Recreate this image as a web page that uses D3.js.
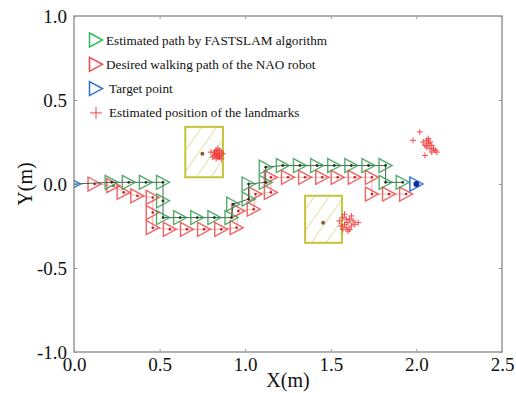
<!DOCTYPE html>
<html>
<head>
<meta charset="utf-8">
<script src="https://cdn.jsdelivr.net/npm/d3@7"></script>
<style>
  body { margin: 0; background: #fff; }
</style>
</head>
<body>
<div id="chart"></div>
<script>
// ticks
var xTicks = [0, 0.5, 1.0, 1.5, 2.0, 2.5]
var yTicks = [-1.0, -0.5, 0, 0.5, 1.0]

// desired walking path of the NAO robot (red)
var desiredPath = [
  [0.12, 0], [0.23, -0.01], [0.29, -0.05], [0.37, -0.07], [0.46, -0.08],
  [0.46, -0.17], [0.46, -0.26], [0.56, -0.27], [0.66, -0.27], [0.76, -0.27],
  [0.86, -0.27], [0.95, -0.26], [0.96, -0.16], [1.05, -0.15], [1.06, -0.06],
  [1.15, -0.05], [1.15, 0.04], [1.25, 0.04], [1.35, 0.04], [1.45, 0.04],
  [1.54, 0.04], [1.64, 0.04], [1.74, 0.04], [1.74, -0.06], [1.84, -0.06],
  [1.94, -0.06]
]

// estimated path by FASTSLAM (green)
var estimatedPath = [
  [0.22, 0.01], [0.32, 0.01], [0.42, 0.01], [0.52, 0.01], [0.52, -0.1],
  [0.52, -0.2], [0.62, -0.2], [0.72, -0.2], [0.82, -0.2], [0.92, -0.2],
  [0.93, -0.12], [1.02, -0.09], [1.02, 0.0], [1.12, 0.01], [1.12, 0.1],
  [1.22, 0.11], [1.32, 0.11], [1.42, 0.11], [1.52, 0.11], [1.62, 0.11],
  [1.72, 0.11], [1.82, 0.11], [1.82, 0.01], [1.92, 0.01]
]

var startPoint = [0, 0]
var targetPoint = [2.0, 0]

// obstacles: [x0, x1, y0, y1] and true landmark position
var obstacles = [
  [0.65, 0.87, 0.04, 0.34],
  [1.35, 1.565, -0.35, -0.07]
]
var landmarks = [[0.75, 0.18], [1.455, -0.23]]

// estimated landmark positions
var landmarkEstimates = [
  [0.80, 0.19], [0.82, 0.17], [0.83, 0.20], [0.84, 0.18], [0.85, 0.16], [0.83, 0.15],
  [0.86, 0.19], [0.84, 0.21], [0.82, 0.19], [0.85, 0.17], [0.87, 0.18], [0.81, 0.16],
  [0.84, 0.16], [0.86, 0.15], [0.83, 0.18], [0.85, 0.20],
  [1.55, -0.22], [1.57, -0.20], [1.58, -0.24], [1.60, -0.23], [1.61, -0.21], [1.59, -0.26],
  [1.62, -0.25], [1.63, -0.22], [1.60, -0.28], [1.56, -0.25], [1.64, -0.24], [1.58, -0.18],
  [1.61, -0.27], [1.59, -0.21], [1.62, -0.19], [1.66, -0.23], [1.57, -0.27],
  [2.02, 0.31], [1.98, 0.26], [2.05, 0.17], [2.04, 0.25], [2.06, 0.26], [2.07, 0.24],
  [2.08, 0.25], [2.06, 0.22], [2.09, 0.23], [2.10, 0.21], [2.08, 0.21], [2.11, 0.20],
  [2.12, 0.19], [2.07, 0.27], [2.05, 0.23], [2.09, 0.19]
]

var legendLabels = [
  'Estimated path by FASTSLAM algorithm',
  'Desired walking path of the NAO robot',
  'Target point',
  'Estimated position of the landmarks'
]

var green = '#3a9e55'
var red = '#f04848'
var blue = '#2f6fd6'
var serif = '"Liberation Serif", "Times New Roman", serif'

var margin = { top: 16, right: 14, bottom: 41, left: 74 }
var width = 516 - margin.left - margin.right
var height = 393 - margin.top - margin.bottom

var svg = d3
  .select('#chart')
  .append('svg')
  .attr('width', 516)
  .attr('height', 393)

var defs = svg.append('defs')
defs
  .append('clipPath')
  .attr('id', 'clip')
  .append('rect')
  .attr('width', width)
  .attr('height', height)

var hatch = defs
  .append('pattern')
  .attr('id', 'hatch')
  .attr('patternUnits', 'userSpaceOnUse')
  .attr('width', 12)
  .attr('height', 12)
  .attr('patternTransform', 'rotate(35)')
hatch
  .append('line')
  .attr('x1', 0)
  .attr('y1', 0)
  .attr('x2', 0)
  .attr('y2', 12)
  .attr('stroke', '#c9cf6a')
  .attr('stroke-width', 1.2)

var g = svg.append('g').attr('transform', 'translate(' + margin.left + ',' + margin.top + ')')

var x = d3.scaleLinear().domain([0, 2.5]).range([0, width])
var y = d3.scaleLinear().domain([-1, 1]).range([height, 0])

// plain hyphen for negatives, like the original figure
var fmt = d => d3.format('.1f')(d).replace('\u2212', '-')
var axisColor = '#999'

// frame + inner ticks
g.append('rect')
  .attr('width', width)
  .attr('height', height)
  .attr('fill', 'none')
  .attr('stroke', axisColor)
  .attr('stroke-width', 1.5)

var xAxisB = g.append('g').attr('transform', 'translate(0,' + height + ')')
  .call(d3.axisBottom(x).tickValues(xTicks).tickSize(-3).tickPadding(5).tickFormat(fmt))
var xAxisT = g.append('g')
  .call(d3.axisTop(x).tickValues(xTicks).tickSize(-3).tickFormat(''))
var yAxisL = g.append('g')
  .call(d3.axisLeft(y).tickValues(yTicks).tickSize(-3).tickPadding(7).tickFormat(fmt))
var yAxisR = g.append('g').attr('transform', 'translate(' + width + ',0)')
  .call(d3.axisRight(y).tickValues(yTicks).tickSize(-3).tickFormat(''))

;[xAxisB, xAxisT, yAxisL, yAxisR].forEach(function(a) {
  a.select('.domain').remove()
  a.selectAll('line').attr('stroke', axisColor)
  a.selectAll('text')
    .attr('fill', '#111')
    .style('font-size', '19px')
})
xAxisB.selectAll('text').attr('dy', '0.72em')

svg.append('text')
  .attr('x', margin.left + width / 2)
  .attr('y', 387)
  .attr('text-anchor', 'middle')
  .attr('font-size', 20)
  .attr('fill', '#111')
  .text('X(m)')

svg.append('text')
  .attr('transform', 'translate(32,' + (margin.top + height / 2) + ') rotate(-90)')
  .attr('text-anchor', 'middle')
  .attr('font-size', 20)
  .attr('fill', '#111')
  .text('Y(m)')

var plot = g.append('g').attr('clip-path', 'url(#clip)')

// obstacles
plot.selectAll('.obstacle')
  .data(obstacles)
  .enter()
  .append('rect')
  .attr('class', 'obstacle')
  .attr('x', d => x(d[0]))
  .attr('y', d => y(d[3]))
  .attr('width', d => x(d[1]) - x(d[0]))
  .attr('height', d => y(d[2]) - y(d[3]))
  .attr('fill', 'url(#hatch)')
  .attr('stroke', '#c4c43a')
  .attr('stroke-width', 2)

plot.selectAll('.landmark')
  .data(landmarks)
  .enter()
  .append('circle')
  .attr('cx', d => x(d[0]))
  .attr('cy', d => y(d[1]))
  .attr('r', 2)
  .attr('fill', '#8a5a30')

var tri = 'M-6.5,-7L6.5,0L-6.5,7Z'
var line = d3.line().x(d => x(d[0])).y(d => y(d[1]))

// desired path
plot.append('path')
  .datum(desiredPath)
  .attr('d', line)
  .attr('fill', 'none')
  .attr('stroke', red)
  .attr('stroke-width', 0.8)
  .attr('opacity', 0.5)

plot.selectAll('.desired')
  .data(desiredPath)
  .enter()
  .append('path')
  .attr('class', 'desired')
  .attr('d', tri)
  .attr('transform', d => 'translate(' + x(d[0]) + ',' + y(d[1]) + ')')
  .attr('fill', 'none')
  .attr('stroke', red)
  .attr('stroke-width', 1.4)
  .attr('opacity', 0.85)

plot.selectAll('.desired-dot')
  .data(desiredPath)
  .enter()
  .append('circle')
  .attr('cx', d => x(d[0]))
  .attr('cy', d => y(d[1]))
  .attr('r', 1.3)
  .attr('fill', '#c02020')

// estimated path
plot.append('path')
  .datum([startPoint].concat(estimatedPath))
  .attr('d', line)
  .attr('fill', 'none')
  .attr('stroke', '#1d3a24')
  .attr('stroke-width', 1)
  .attr('opacity', 0.8)

plot.selectAll('.estimated')
  .data(estimatedPath)
  .enter()
  .append('path')
  .attr('class', 'estimated')
  .attr('d', tri)
  .attr('transform', d => 'translate(' + x(d[0]) + ',' + y(d[1]) + ')')
  .attr('fill', 'none')
  .attr('stroke', green)
  .attr('stroke-width', 1.4)
  .attr('opacity', 0.85)

plot.selectAll('.estimated-dot')
  .data(estimatedPath)
  .enter()
  .append('circle')
  .attr('cx', d => x(d[0]))
  .attr('cy', d => y(d[1]))
  .attr('r', 1.4)
  .attr('fill', '#1d3a24')

// start and target
plot.selectAll('.target')
  .data([startPoint, targetPoint])
  .enter()
  .append('path')
  .attr('d', tri)
  .attr('transform', d => 'translate(' + x(d[0]) + ',' + y(d[1]) + ')')
  .attr('fill', 'none')
  .attr('stroke', blue)
  .attr('stroke-width', 1.4)

plot.append('circle')
  .attr('cx', x(targetPoint[0]))
  .attr('cy', y(targetPoint[1]))
  .attr('r', 3)
  .attr('fill', '#1030a0')

// landmark estimates
var plus = 'M-3,0H3M0,-3V3'
plot.selectAll('.lm-est')
  .data(landmarkEstimates)
  .enter()
  .append('path')
  .attr('d', plus)
  .attr('transform', d => 'translate(' + x(d[0]) + ',' + y(d[1]) + ')')
  .attr('stroke', '#f02020')
  .attr('stroke-width', 1)
  .attr('opacity', 0.8)

// legend
var legendColors = ['#2ebd5a', red, blue, red]
var legend = g.selectAll('.legend')
  .data(legendLabels)
  .enter()
  .append('g')
  .attr('transform', (d, i) => 'translate(22,' + (24 + i * 24.3) + ')')

legend.append('path')
  .attr('d', (d, i) => (i < 3 ? tri : 'M-6,0H6M0,-6V6'))
  .attr('fill', 'none')
  .attr('stroke', (d, i) => legendColors[i])
  .attr('stroke-width', (d, i) => (i < 3 ? 1.5 : 1))

legend.append('text')
  .attr('x', (d, i) => (i < 2 ? 10 : 13))
  .attr('y', 4.5)
  .attr('font-size', 13.2)
  .attr('fill', '#111')
  .text(d => d)

// serif everywhere
svg.selectAll('text').style('font-family', serif)
</script>
</body>
</html>
